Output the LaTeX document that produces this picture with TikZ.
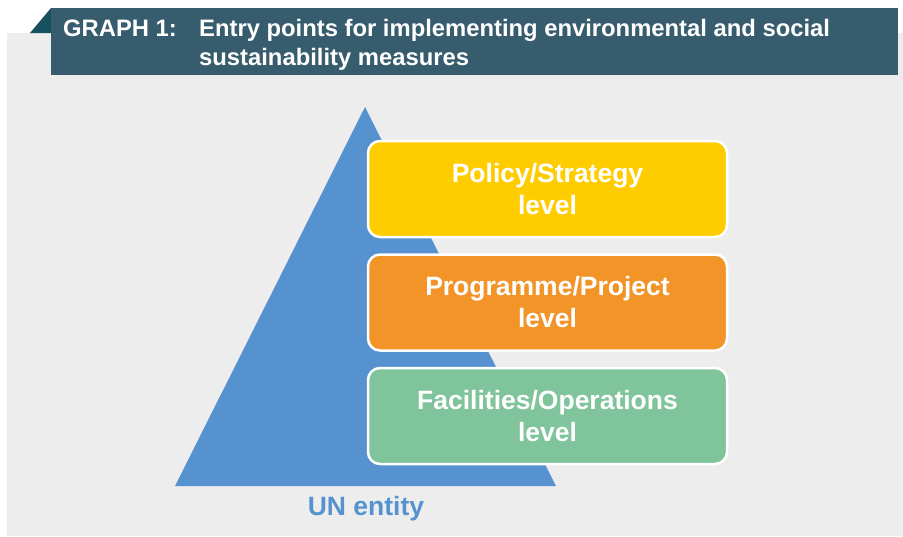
\documentclass[tikz,border=0pt]{standalone}
\usepackage{fontspec}
\setmainfont{Liberation Sans}
\usetikzlibrary{positioning}

\definecolor{bannerblue}{HTML}{375C6E}
\definecolor{bannerdark}{HTML}{17505F}
\definecolor{panelgray}{HTML}{EDEDED}
\definecolor{entityblue}{HTML}{5592CF}
\definecolor{policyyellow}{HTML}{FFCC00}
\definecolor{programmeorange}{HTML}{F39428}
\definecolor{facilitiesgreen}{HTML}{7FC49A}

\begin{document}
\begin{tikzpicture}[x=1pt, y=-1pt,
    levelbox/.style={rectangle, draw=white, line width=2.5pt, rounded corners=12pt, align=center,
        minimum width=359pt, minimum height=96pt, text=white, font=\bfseries\fontsize{26.5}{32}\selectfont},
    titletext/.style={inner sep=0pt, text=white, align=left, font=\bfseries\fontsize{23.8}{29}\selectfont}]

    \useasboundingbox (0,0) rectangle (903,536);
    \fill[white] (0,0) rectangle (903,536);
    \fill[panelgray] (7,33) rectangle (903,536);

    % Banner
    \fill[bannerdark] (30,33) -- (51,8) -- (51,33) -- cycle;
    \fill[bannerblue] (51,8) rectangle (898,75);
    \node[titletext, anchor=base west] (graphno) at (63,36) {GRAPH 1:};
    \node[titletext, anchor=north west] (title) at (199,19) {Entry points for implementing environmental and social\\sustainability measures};

    % Pyramid
    \fill[entityblue] (175,486) -- (365,107) -- (556,486) -- cycle;
    \node[text=entityblue, font=\bfseries\fontsize{26.5}{30}\selectfont] (entity) at (366,509) {UN entity};

    % Levels
    \node[levelbox, fill=policyyellow] (policy) at (547.5,189) {Policy/Strategy\\level};
    \node[levelbox, fill=programmeorange, below=15pt of policy] (programme) {Programme/Project\\level};
    \node[levelbox, fill=facilitiesgreen, below=15pt of programme] (facilities) {Facilities/Operations\\level};

\end{tikzpicture}
\end{document}
